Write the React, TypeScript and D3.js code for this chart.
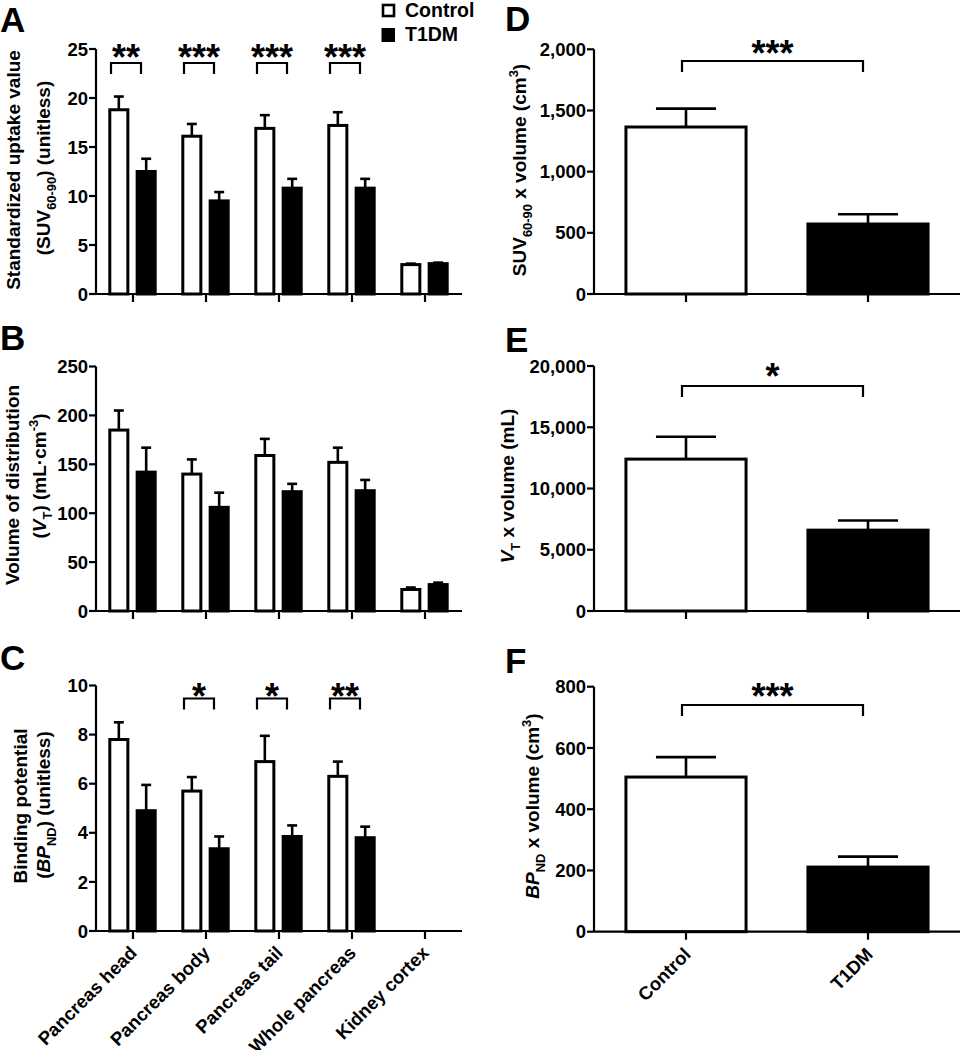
import React from 'react';
import * as d3 from 'd3';

const FONT = "'Liberation Sans', Arial, Helvetica, sans-serif";
const INK = '#000';

// ---------- data ----------
const categories = ['Pancreas head', 'Pancreas body', 'Pancreas tail', 'Whole pancreas', 'Kidney cortex'];
const seriesNames = ['Control', 'T1DM'];

const suvControl = [18.8, 16.1, 16.9, 17.2, 3.0];
const suvControlSem = [1.35, 1.25, 1.35, 1.35, 0.1];
const suvT1DM = [12.5, 9.5, 10.8, 10.8, 3.1];
const suvT1DMSem = [1.3, 0.9, 0.95, 0.95, 0.1];
const suvSig = ['**', '***', '***', '***', ''];
const suvTicks = [0, 5, 10, 15, 20, 25];

const vtControl = [185, 140, 159, 152, 22];
const vtControlSem = [20, 15, 17, 15, 2];
const vtT1DM = [142, 106, 122, 123, 27];
const vtT1DMSem = [25, 15, 8, 11, 2];
const vtSig = ['', '', '', '', ''];
const vtTicks = [0, 50, 100, 150, 200, 250];

const bpControl: (number | null)[] = [7.8, 5.7, 6.9, 6.3, null];
const bpControlSem: (number | null)[] = [0.7, 0.57, 1.05, 0.6, null];
const bpT1DM: (number | null)[] = [4.9, 3.35, 3.85, 3.8, null];
const bpT1DMSem: (number | null)[] = [1.05, 0.5, 0.45, 0.45, null];
const bpSig = ['', '*', '*', '**', ''];
const bpTicks = [0, 2, 4, 6, 8, 10];

const groups = ['Control', 'T1DM'];
const suvVolume = [1365, 572];
const suvVolumeSem = [150, 80];
const suvVolumeTicks = [0, 500, 1000, 1500, 2000];
const vtVolume = [12400, 6600];
const vtVolumeSem = [1830, 790];
const vtVolumeTicks = [0, 5000, 10000, 15000, 20000];
const bpVolume = [505, 211];
const bpVolumeSem = [65, 34];
const bpVolumeTicks = [0, 200, 400, 600, 800];
const volumeSig = ['***', '*', '***'];

// ---------- helpers ----------
type Part = { t: string; sub?: boolean; sup?: boolean; it?: boolean };

function RichText({ x, y, parts, size, rotate = 0, anchor = 'middle' }: any) {
  let shift = 0;
  const spans = (parts as Part[]).map((p, i) => {
    const target = p.sub ? size * 0.32 : p.sup ? -size * 0.42 : 0;
    const dy = target - shift;
    shift = target;
    return (
      <tspan key={i} dy={dy} fontSize={p.sub || p.sup ? size * 0.68 : size} fontStyle={p.it ? 'italic' : 'normal'}>
        {p.t}
      </tspan>
    );
  });
  return (
    <text transform={`translate(${x},${y}) rotate(${rotate})`} textAnchor={anchor} fontSize={size}
      fontWeight="bold" fontFamily={FONT} fill={INK}>
      {spans}
    </text>
  );
}

const TICK_FS = 18.5;
const LABEL_FS = 19;
const STAR_FS = 36;

function YAxis({ x0, y, ticks, fmt }: any) {
  const [b, t] = [y(ticks[0]), y(ticks[ticks.length - 1])];
  return (
    <g>
      <line x1={x0} x2={x0} y1={t} y2={b} stroke={INK} strokeWidth={2.2} />
      {ticks.map((v: number) => (
        <g key={v}>
          <line x1={x0 - 7} x2={x0} y1={y(v)} y2={y(v)} stroke={INK} strokeWidth={2.2} />
          <text x={x0 - 8} y={y(v)} dy="0.36em" textAnchor="end" fontSize={TICK_FS} fontWeight="bold"
            fontFamily={FONT} fill={INK}>{fmt(v)}</text>
        </g>
      ))}
    </g>
  );
}

function ErrorBar({ cx, w, y0, y1 }: any) {
  return (
    <g stroke={INK} strokeWidth={2.6}>
      <line x1={cx} x2={cx} y1={y0} y2={y1} />
      <line x1={cx - w / 2} x2={cx + w / 2} y1={y1} y2={y1} />
    </g>
  );
}

function Bracket({ xa, xb, top, drop, label, starBase }: any) {
  return (
    <g>
      <path d={`M${xa},${top + drop}V${top}H${xb}V${top + drop}`} fill="none" stroke={INK} strokeWidth={2.2} />
      <text x={(xa + xb) / 2} y={starBase} textAnchor="middle" fontSize={STAR_FS} fontWeight="bold"
        fontFamily={FONT} fill={INK}>{label}</text>
    </g>
  );
}

function GroupedPanel(props: any) {
  const { top, bottom, ticks, ctrl, ctrlSem, t1, t1Sem, sig, bracketTop, starBase, showLabels,
    letter, letterY, yLabel } = props;
  const x0 = 96;
  const x = d3.scaleBand().domain(categories).range([96.5, 461.5]);
  const inner = d3.scaleBand().domain(seriesNames).range([-23.2, 22.2]).paddingInner(0.34);
  const y = d3.scaleLinear().domain([0, ticks[ticks.length - 1]]).range([bottom, top]);
  const bw = inner.bandwidth();
  const cx = (c: string) => (x(c) as number) + x.bandwidth() / 2;
  const vals = [ctrl, t1];
  const sems = [ctrlSem, t1Sem];
  return (
    <g>
      <text x={0} y={letterY} fontSize={35} fontWeight="bold" fontFamily={FONT} fill={INK}>{letter}</text>
      {yLabel.map((l: any, i: number) => (
        <RichText key={i} x={l.x} y={l.cy} parts={l.parts} size={LABEL_FS} rotate={-90} />
      ))}
      {categories.map((c, ci) =>
        seriesNames.map((s, si) => {
          const v = vals[si][ci];
          if (v == null) return null;
          const bx = cx(c) + (inner(s) as number);
          return (
            <g key={c + s}>
              <rect x={bx} y={y(v)} width={bw} height={y(0) - y(v)} fill={si === 0 ? '#fff' : INK}
                stroke={INK} strokeWidth={3} />
              <ErrorBar cx={bx + bw / 2} w={bw * 0.55} y0={y(v)} y1={y(v + sems[si][ci])} />
            </g>
          );
        })
      )}
      <YAxis x0={x0} y={y} ticks={ticks} fmt={d3.format(',')} />
      <line x1={x0} x2={462} y1={y(0)} y2={y(0)} stroke={INK} strokeWidth={2.2} />
      {categories.map((c) => (
        <line key={c} x1={cx(c)} x2={cx(c)} y1={y(0)} y2={y(0) + 8} stroke={INK} strokeWidth={2.2} />
      ))}
      {categories.map((c, ci) =>
        sig[ci] ? (
          <Bracket key={'b' + c} xa={cx(c) - 22} xb={cx(c) + 8} top={bracketTop} drop={11}
            label={sig[ci]} starBase={starBase} />
        ) : null
      )}
      {showLabels &&
        categories.map((c) => (
          <text key={'l' + c} transform={`translate(${cx(c) + 5},${y(0) + 23}) rotate(-45)`} textAnchor="end"
            fontSize={TICK_FS} fontWeight="bold" fontFamily={FONT} fill={INK}>{c}</text>
        ))}
    </g>
  );
}

function TotalPanel(props: any) {
  const { top, bottom, ticks, vals, sems, sig, bracketTop, starBase, showLabels, letter, letterY, yLabel } = props;
  const x0 = 594;
  const x = d3.scaleBand().domain(groups).range([595, 959]).paddingInner(0.34).paddingOuter(0.17);
  const y = d3.scaleLinear().domain([0, ticks[ticks.length - 1]]).range([bottom, top]);
  const bw = x.bandwidth();
  const cx = (g: string) => (x(g) as number) + bw / 2;
  return (
    <g>
      <text x={505} y={letterY} fontSize={35} fontWeight="bold" fontFamily={FONT} fill={INK}>{letter}</text>
      <RichText x={yLabel.x} y={yLabel.cy} parts={yLabel.parts} size={LABEL_FS} rotate={-90} />
      {groups.map((g, i) => (
        <g key={g}>
          <rect x={x(g)} y={y(vals[i])} width={bw} height={y(0) - y(vals[i])} fill={i === 0 ? '#fff' : INK}
            stroke={INK} strokeWidth={3} />
          <ErrorBar cx={cx(g)} w={bw * 0.5} y0={y(vals[i])} y1={y(vals[i] + sems[i])} />
        </g>
      ))}
      <YAxis x0={x0} y={y} ticks={ticks} fmt={d3.format(',')} />
      <line x1={x0} x2={960} y1={y(0)} y2={y(0)} stroke={INK} strokeWidth={2.2} />
      {groups.map((g) => (
        <line key={g} x1={cx(g)} x2={cx(g)} y1={y(0)} y2={y(0) + 8} stroke={INK} strokeWidth={2.2} />
      ))}
      <Bracket xa={cx(groups[0]) - 4} xb={cx(groups[1]) - 5} top={bracketTop} drop={11} label={sig}
        starBase={starBase} />
      {showLabels &&
        groups.map((g) => (
          <text key={'l' + g} transform={`translate(${cx(g) + 6},${y(0) + 24}) rotate(-45)`} textAnchor="end"
            fontSize={TICK_FS} fontWeight="bold" fontFamily={FONT} fill={INK}>{g}</text>
        ))}
    </g>
  );
}

export default function App() {
  return (
    <svg width={962} height={1050} style={{ position: 'absolute', left: 0, top: 0, background: '#fff' }}>
      <rect width={962} height={1050} fill="#fff" />
      {/* legend */}
      <rect x={383} y={5} width={11} height={11} fill="#fff" stroke={INK} strokeWidth={2.6} />
      <rect x={381.5} y={28} width={13.5} height={14} fill={INK} />
      <text x={405} y={17} fontSize={19.5} fontWeight="bold" fontFamily={FONT} fill={INK}>{seriesNames[0]}</text>
      <text x={405} y={41} fontSize={19.5} fontWeight="bold" fontFamily={FONT} fill={INK}>{seriesNames[1]}</text>

      <GroupedPanel top={49} bottom={294} ticks={suvTicks} ctrl={suvControl} ctrlSem={suvControlSem}
        t1={suvT1DM} t1Sem={suvT1DMSem} sig={suvSig} bracketTop={63} starBase={70} showLabels={false}
        letter="A" letterY={32}
        yLabel={[
          { x: 20, cy: 170, parts: [{ t: 'Standardized uptake value' }] },
          { x: 50, cy: 168, parts: [{ t: '(SUV' }, { t: '60-90', sub: true }, { t: ') (unitless)' }] },
        ]} />
      <GroupedPanel top={366.5} bottom={611} ticks={vtTicks} ctrl={vtControl} ctrlSem={vtControlSem}
        t1={vtT1DM} t1Sem={vtT1DMSem} sig={vtSig} bracketTop={0} starBase={0} showLabels={false}
        letter="B" letterY={350}
        yLabel={[
          { x: 19, cy: 485, parts: [{ t: 'Volume of distribution' }] },
          { x: 46, cy: 476, parts: [{ t: '(' }, { t: 'V', it: true }, { t: 'T', sub: true }, { t: ') (mL·cm' }, { t: '-3', sup: true }, { t: ')' }] },
        ]} />
      <GroupedPanel top={685.5} bottom={931} ticks={bpTicks} ctrl={bpControl} ctrlSem={bpControlSem}
        t1={bpT1DM} t1Sem={bpT1DMSem} sig={bpSig} bracketTop={698.5} starBase={709} showLabels={true}
        letter="C" letterY={670}
        yLabel={[
          { x: 27, cy: 806, parts: [{ t: 'Binding potential' }] },
          { x: 50, cy: 805, parts: [{ t: '(' }, { t: 'BP', it: true }, { t: 'ND', sub: true }, { t: ') (unitless)' }] },
        ]} />

      <TotalPanel top={49.3} bottom={294} ticks={suvVolumeTicks} vals={suvVolume} sems={suvVolumeSem}
        sig={volumeSig[0]} bracketTop={61} starBase={66} showLabels={false} letter="D" letterY={31}
        yLabel={{ x: 526, cy: 170, parts: [{ t: 'SUV' }, { t: '60-90', sub: true }, { t: ' x volume (cm' }, { t: '3', sup: true }, { t: ')' }] }} />
      <TotalPanel top={366} bottom={611} ticks={vtVolumeTicks} vals={vtVolume} sems={vtVolumeSem}
        sig={volumeSig[1]} bracketTop={386} starBase={389} showLabels={false} letter="E" letterY={352}
        yLabel={{ x: 514, cy: 486, parts: [{ t: 'V', it: true }, { t: 'T', sub: true }, { t: ' x volume (mL)' }] }} />
      <TotalPanel top={686.7} bottom={931.7} ticks={bpVolumeTicks} vals={bpVolume} sems={bpVolumeSem}
        sig={volumeSig[2]} bracketTop={705} starBase={709} showLabels={true} letter="F" letterY={673}
        yLabel={{ x: 539, cy: 806, parts: [{ t: 'BP', it: true }, { t: 'ND', sub: true }, { t: ' x volume (cm' }, { t: '3', sup: true }, { t: ')' }] }} />
    </svg>
  );
}
